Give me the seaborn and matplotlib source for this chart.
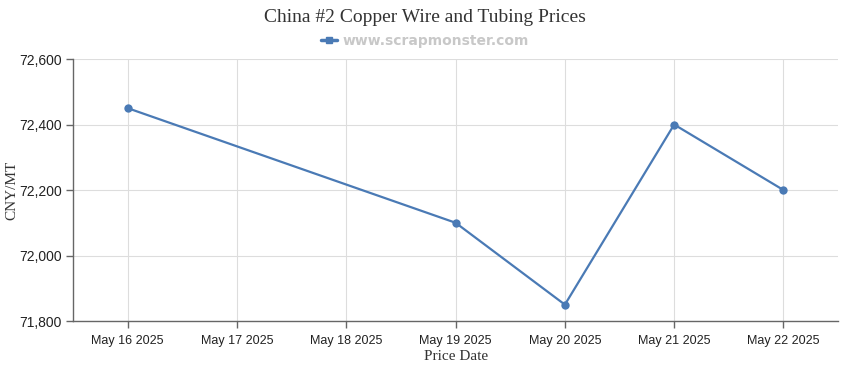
import pandas as pd
import numpy as np
import matplotlib
matplotlib.use("Agg")
import matplotlib.pyplot as plt
import seaborn as sns
from matplotlib.lines import Line2D

# ==================================================
# DATA
# ==================================================

date_labels = ["May 16 2025", "May 17 2025", "May 18 2025", "May 19 2025",
               "May 20 2025", "May 21 2025", "May 22 2025"]
price_days = [0, 3, 4, 5, 6]
prices = [72450, 72100, 71850, 72400, 72200]
y_ticks = [71800, 72000, 72200, 72400, 72600]

df = pd.DataFrame({"day": price_days, "price": prices})

# ==================================================
# PLOT
# ==================================================

sns.set_theme(style="white")
plt.rcParams["font.family"] = ["Liberation Sans", "DejaVu Sans"]

fig = plt.figure(figsize=(8.5, 3.7), dpi=100)
ax = fig.add_axes([0.086, 0.1324, 0.9, 0.708])

line_color = "#4a7ab5"

sns.lineplot(
    data=df,
    x="day",
    y="price",
    color=line_color,
    linewidth=1.6,
    marker="o",
    markersize=6,
    markeredgewidth=0,
    ax=ax
)

ax.set_xlim(-0.5, 6.5)
ax.set_ylim(71800, 72600)
ax.set_xticks(range(len(date_labels)))
ax.set_xticklabels(date_labels, fontsize=9, color="#222222")
ax.set_yticks(y_ticks)
ax.set_yticklabels([f"{v:,}" for v in y_ticks], fontsize=10, color="#222222")

ax.grid(True, color="#dddddd", linewidth=0.8)
ax.set_axisbelow(True)

for side in ["top", "right"]:
    ax.spines[side].set_visible(False)
for side in ["left", "bottom"]:
    ax.spines[side].set_color("#666666")
    ax.spines[side].set_linewidth(1)

ax.tick_params(axis="both", which="both", length=5, width=1,
               color="#666666", direction="out", bottom=True, left=True, pad=3)
ax.tick_params(axis="x", pad=5)

ax.set_xlabel("Price Date", fontsize=11, family="Liberation Serif",
              color="#333333", labelpad=2)
ax.set_ylabel("CNY/MT", fontsize=11, family="Liberation Serif",
              color="#333333")
ax.yaxis.set_label_coords(-0.072, 0.5)

fig.suptitle("China #2 Copper Wire and Tubing Prices", y=0.975,
             fontsize=14, family="Liberation Serif", color="#333333")

handle = Line2D([0], [0], color=line_color, linewidth=2.5, marker="s",
                markersize=5)
fig.legend([handle], ["www.scrapmonster.com"], loc="center",
           bbox_to_anchor=(0.5, 0.89), frameon=False, handlelength=1.2,
           handletextpad=0.4,
           prop={"family": "DejaVu Sans", "size": 10, "weight": "bold"},
           labelcolor="#c8c8c8")

plt.savefig("out.png", dpi=100)
